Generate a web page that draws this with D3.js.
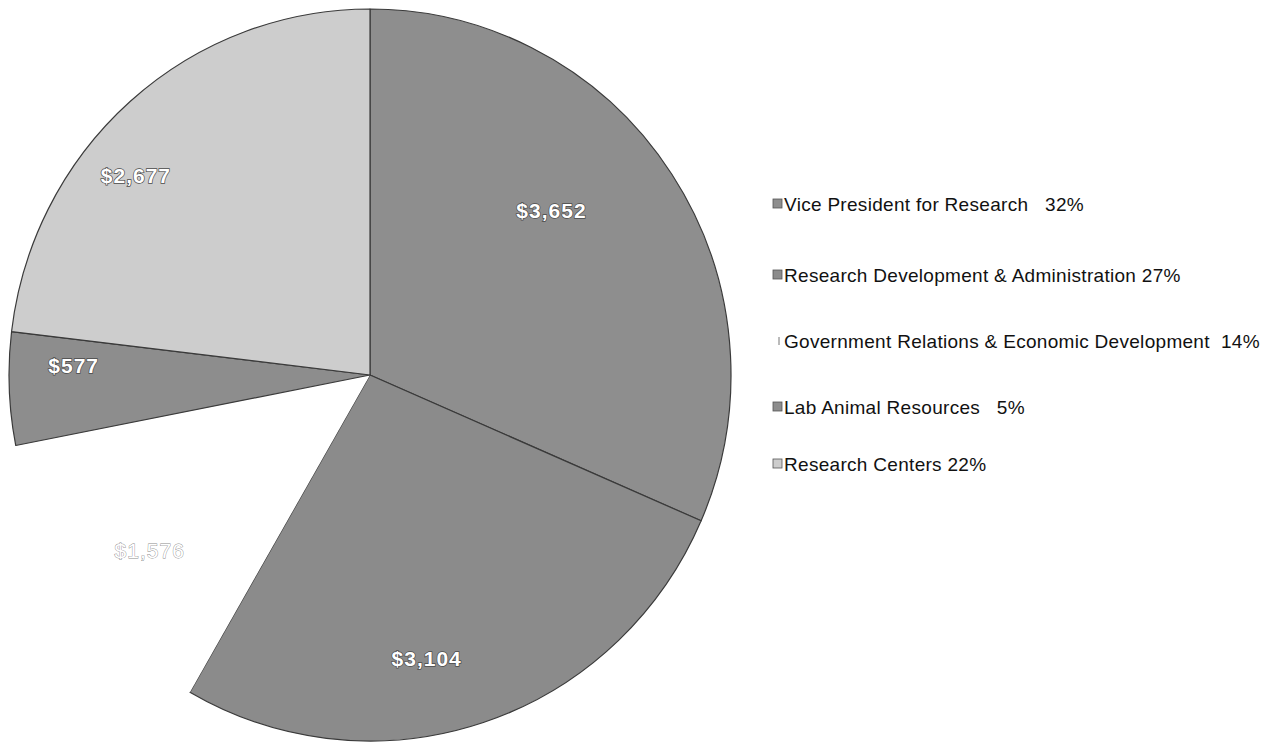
<!DOCTYPE html>
<html>
<head>
<meta charset="utf-8">
<script src="https://cdn.jsdelivr.net/npm/d3@7"></script>
<style>
  html, body { margin: 0; padding: 0; background: #fff; }
  svg { display: block; }
  text { white-space: pre; }
</style>
</head>
<body>
<svg id="chart" width="1277" height="742"></svg>
<script>
// Budget by unit (thousands of dollars)
const categories = [
  "Vice President for Research",
  "Research Development & Administration",
  "Government Relations & Economic Development",
  "Lab Animal Resources",
  "Research Centers"
];
const values = [3652, 3104, 1576, 577, 2677];
const valueLabels = ["$3,652", "$3,104", "$1,576", "$577", "$2,677"];
const legendLabels = [
  "Vice President for Research   32%",
  "Research Development & Administration 27%",
  "Government Relations & Economic Development  14%",
  "Lab Animal Resources   5%",
  "Research Centers 22%"
];
const sliceColors = ["#8e8e8e", "#8b8b8b", "#ffffff", "#8d8d8d", "#cdcdcd"];

const svg = d3.select("#chart");

const cx = 370, cy = 375, rx = 361, ry = 366;
const radius = ry;

const data = categories.map((c, i) => ({ name: c, value: values[i], label: valueLabels[i], color: sliceColors[i] }));

const pie = d3.pie().sort(null).value(d => d.value);
const arcs = pie(data);
const arc = d3.arc().innerRadius(0).outerRadius(radius);

const g = svg.append("g")
  .attr("transform", `translate(${cx},${cy}) scale(${rx / ry},1)`);

g.selectAll("path.slice")
  .data(arcs)
  .join("path")
  .attr("class", "slice")
  .attr("d", arc)
  .attr("fill", d => d.data.color)
  .attr("stroke", d => d.data.color === "#ffffff" ? "none" : "#3a3a3a")
  .attr("stroke-width", 1.2)
  .attr("stroke-linejoin", "round");

// value labels: placed along each slice's bisector, nudged per slice
const labelGroup = svg.append("g")
  .attr("transform", `translate(${cx},${cy})`);

const labelPlacement = [
  { r: 0.67, da: -9 },
  { r: 0.79, da: 7 },
  { r: 0.77, da: -3 },
  { r: 0.81, da: 4 },
  { r: 0.84, da: -8 }
];

labelGroup.selectAll("text.value")
  .data(arcs)
  .join("text")
  .attr("class", "value")
  .attr("transform", (d, i) => {
    const a = (d.startAngle + d.endAngle) / 2 + labelPlacement[i].da * Math.PI / 180;
    const r = radius * labelPlacement[i].r;
    return `translate(${Math.sin(a) * r},${-Math.cos(a) * r})`;
  })
  .attr("text-anchor", "middle")
  .attr("dominant-baseline", "central")
  .attr("font-family", "'Liberation Sans', Arial, sans-serif")
  .attr("font-size", 21)
  .attr("letter-spacing", 1)
  .attr("font-weight", (d, i) => i === 2 ? "normal" : "bold")
  .attr("fill", "#ffffff")
  .attr("stroke", (d, i) => i === 2 ? "#8a8a8a" : "#4a4a4a")
  .attr("stroke-width", (d, i) => i === 2 ? 0.8 : 1.4)
  .attr("paint-order", "stroke")
  .text(d => d.data.label);

// legend
const legendX = 773, legendY = [204, 275, 341, 407, 464];
const legend = svg.append("g");
const items = legend.selectAll("g.item")
  .data(data)
  .join("g")
  .attr("class", "item")
  .attr("transform", (d, i) => `translate(${legendX},${legendY[i]})`);

items.append("rect")
  .attr("x", 0).attr("y", -5)
  .attr("width", 9).attr("height", 9)
  .attr("fill", d => d.color)
  .attr("stroke", d => d.color === "#ffffff" ? "none" : "#555")
  .attr("stroke-width", 0.8);

items.filter(d => d.color === "#ffffff")
  .append("line")
  .attr("x1", 6).attr("x2", 6).attr("y1", -4).attr("y2", 4)
  .attr("stroke", "#777").attr("stroke-width", 1);

items.append("text")
  .attr("x", 11)
  .attr("y", 0)
  .attr("dominant-baseline", "central")
  .attr("font-family", "'Liberation Sans', Arial, sans-serif")
  .attr("font-size", 19)
  .attr("letter-spacing", 0.3)
  .attr("fill", "#111")
  .text((d, i) => legendLabels[i]);
</script>
</body>
</html>
